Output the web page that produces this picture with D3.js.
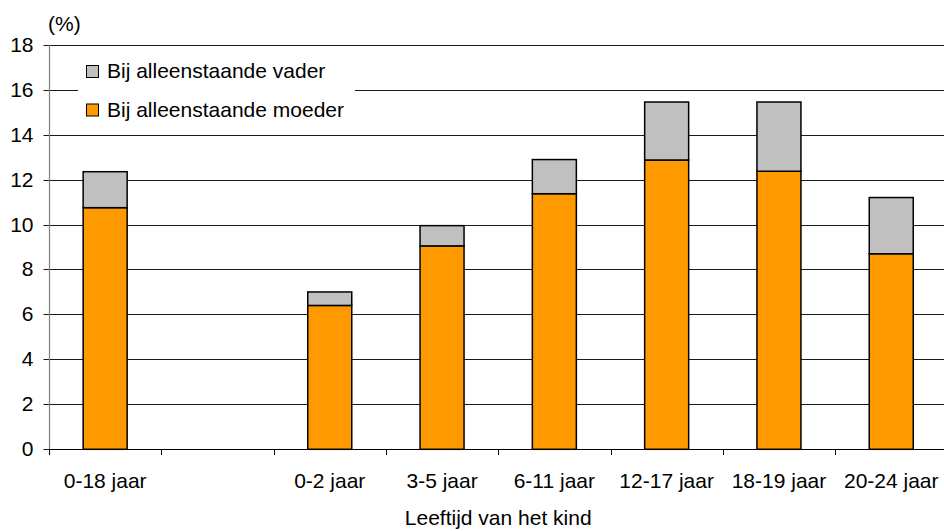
<!DOCTYPE html>
<html>
<head>
<meta charset="utf-8">
<script src="https://cdn.jsdelivr.net/npm/d3@7"></script>
<style>
  html, body { margin: 0; padding: 0; background: #fff; }
  svg { display: block; }
  text { font-family: "Liberation Sans", Arial, sans-serif; font-size: 21px; fill: #000; }
</style>
</head>
<body>
<svg id="chart" width="944" height="531"></svg>
<script>
// ---- data ----
const categories = ["0-18 jaar", "", "0-2 jaar", "3-5 jaar", "6-11 jaar", "12-17 jaar", "18-19 jaar", "20-24 jaar"];
const moeder = [10.75, null, 6.4, 9.05, 11.37, 12.87, 12.37, 8.7];
const vader  = [1.6, null, 0.6, 0.9, 1.52, 2.58, 3.08, 2.5];
const yTicks = [0, 2, 4, 6, 8, 10, 12, 14, 16, 18];
const seriesNames = ["Bij alleenstaande vader", "Bij alleenstaande moeder"];
const colors = { vader: "#C0C0C0", moeder: "#FF9900" };
const yUnit = "(%)";
const xTitle = "Leeftijd van het kind";

(function () {
// ---- layout ----
const pL = 49, pR = 947.4, pT = 44.7, pB = 449.3;

const svg = d3.select("#chart");
const x = d3.scaleBand().domain(categories).range([pL, pR]).paddingInner(0).paddingOuter(0);
const y = d3.scaleLinear().domain([0, 18]).range([pB, pT]);
const barW = 44;

// gridlines
svg.append("g").selectAll("line").data(yTicks.filter(d => d > 0)).join("line")
  .attr("x1", pL).attr("x2", pR)
  .attr("y1", d => Math.round(y(d)) + 0.5).attr("y2", d => Math.round(y(d)) + 0.5)
  .attr("stroke", "#1a1a1a").attr("stroke-width", 1);

// legend background (covers gridline)
const lg = svg.append("g");
lg.append("rect").attr("x", 78).attr("y", 56).attr("width", 277).attr("height", 70).attr("fill", "#fff");

// bars
const rows = categories.map((c, i) => ({ c, m: moeder[i], v: vader[i] })).filter(d => d.m != null);
const bars = svg.append("g");
bars.selectAll("rect.m").data(rows).join("rect").attr("class", "m")
  .attr("x", d => x(d.c) + x.bandwidth() / 2 - barW / 2)
  .attr("width", barW)
  .attr("y", d => y(d.m))
  .attr("height", d => y(0) - y(d.m))
  .attr("fill", colors.moeder).attr("stroke", "#000").attr("stroke-width", 1.5);
bars.selectAll("rect.v").data(rows).join("rect").attr("class", "v")
  .attr("x", d => x(d.c) + x.bandwidth() / 2 - barW / 2)
  .attr("width", barW)
  .attr("y", d => y(d.m + d.v))
  .attr("height", d => y(d.m) - y(d.m + d.v))
  .attr("fill", colors.vader).attr("stroke", "#000").attr("stroke-width", 1.5);

// y axis
const ya = svg.append("g").attr("transform", `translate(${pL + 0.5},0)`)
  .call(d3.axisLeft(y).tickValues(yTicks).tickSize(6).tickSizeOuter(0));
ya.select(".domain").remove();
ya.attr("font-size", null).attr("font-family", null);
ya.selectAll(".tick line").attr("stroke", "#1a1a1a");
ya.selectAll(".tick").attr("transform", d => `translate(0,${Math.round(y(d)) + 0.5})`);
ya.selectAll(".tick text")
  .attr("x", -16).attr("dy", null).attr("y", 6)
  .attr("text-anchor", "end");
svg.append("line").attr("x1", pL + 0.5).attr("x2", pL + 0.5)
  .attr("y1", pT).attr("y2", pB + 6).attr("stroke", "#808080").attr("stroke-width", 1.2);

// x axis line and boundary ticks
svg.append("line").attr("x1", pL).attr("x2", pR)
  .attr("y1", Math.round(pB) + 0.5).attr("y2", Math.round(pB) + 0.5)
  .attr("stroke", "#000").attr("stroke-width", 1.2);
const bounds = d3.range(categories.length + 1).map(i => pL + i * x.step());
svg.append("g").selectAll("line").data(bounds).join("line")
  .attr("x1", d => Math.round(d) + 0.5).attr("x2", d => Math.round(d) + 0.5)
  .attr("y1", Math.round(pB)).attr("y2", Math.round(pB) + 6)
  .attr("stroke", "#000");

// x labels
const xa = svg.append("g").attr("transform", `translate(0,${Math.round(pB)})`)
  .call(d3.axisBottom(x).tickSize(0));
xa.select(".domain").remove();
xa.attr("font-size", null).attr("font-family", null);
xa.selectAll(".tick text").attr("y", 39).attr("dy", null);

// unit label
svg.append("text").attr("x", 48).attr("y", 31).text(yUnit);

// x title
svg.append("text").attr("text-anchor", "middle")
  .attr("x", (pL + pR) / 2).attr("y", 525).text(xTitle);

// legend entries
const legendItems = [
  { name: seriesNames[0], color: colors.vader, y: 72 },
  { name: seriesNames[1], color: colors.moeder, y: 110.5 }
];
legendItems.forEach(it => {
  lg.append("rect").attr("x", 86.5).attr("y", it.y - 6.5).attr("width", 12).attr("height", 12)
    .attr("fill", it.color).attr("stroke", "#000").attr("stroke-width", 1);
  lg.append("text").attr("x", 107).attr("y", it.y + 6).text(it.name);
});
})();
</script>
</body>
</html>
